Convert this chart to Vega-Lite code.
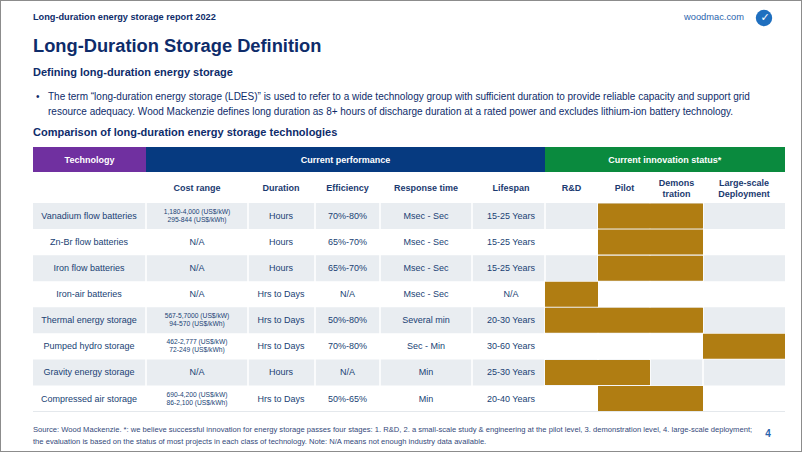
{
  "$schema": "https://vega.github.io/schema/vega-lite/v6.json",
  "width": 802,
  "height": 452,
  "padding": 0,
  "autosize": {"type": "none"},
  "background": "white",
  "config": {
    "view": {"stroke": "#8c8c8c", "strokeWidth": 2},
    "axis": {"disable": true},
    "legend": {"disable": true},
    "text": {"font": "Liberation Sans", "baseline": "middle"}
  },
  "datasets": {
    "table": [
      {"tech": "Vanadium flow batteries", "cost": "1,180-4,000 (US$/kW)\n295-844 (US$/kWh)", "duration": "Hours", "efficiency": "70%-80%", "response": "Msec - Sec", "lifespan": "15-25 Years", "stage_start": 1, "stage_end": 3},
      {"tech": "Zn-Br flow batteries", "cost": "N/A", "duration": "Hours", "efficiency": "65%-70%", "response": "Msec - Sec", "lifespan": "15-25 Years", "stage_start": 1, "stage_end": 3},
      {"tech": "Iron flow batteries", "cost": "N/A", "duration": "Hours", "efficiency": "65%-70%", "response": "Msec - Sec", "lifespan": "15-25 Years", "stage_start": 1, "stage_end": 3},
      {"tech": "Iron-air batteries", "cost": "N/A", "duration": "Hrs to Days", "efficiency": "N/A", "response": "Msec - Sec", "lifespan": "N/A", "stage_start": 0, "stage_end": 1},
      {"tech": "Thermal energy storage", "cost": "567-5,7000 (US$/kW)\n94-570 (US$/kWh)", "duration": "Hrs to Days", "efficiency": "50%-80%", "response": "Several min", "lifespan": "20-30 Years", "stage_start": 0, "stage_end": 3},
      {"tech": "Pumped hydro storage", "cost": "462-2,777 (US$/kW)\n72-249 (US$/kWh)", "duration": "Hrs to Days", "efficiency": "70%-80%", "response": "Sec - Min", "lifespan": "30-60 Years", "stage_start": 3, "stage_end": 4},
      {"tech": "Gravity energy storage", "cost": "N/A", "duration": "Hours", "efficiency": "N/A", "response": "Min", "lifespan": "25-30 Years", "stage_start": 0, "stage_end": 2},
      {"tech": "Compressed air storage", "cost": "690-4,200 (US$/kW)\n86-2,100 (US$/kWh)", "duration": "Hrs to Days", "efficiency": "50%-65%", "response": "Min", "lifespan": "20-40 Years", "stage_start": 1, "stage_end": 3}
    ],
    "columns": [
      {"name": "Technology"},
      {"name": "Cost range"},
      {"name": "Duration"},
      {"name": "Efficiency"},
      {"name": "Response time"},
      {"name": "Lifespan"},
      {"name": "R&D"},
      {"name": "Pilot"},
      {"name": "Demons\ntration"},
      {"name": "Large-scale\nDeployment"}
    ],
    "slide": [
      {"part": "header", "text": "Long-duration energy storage report 2022"},
      {"part": "site", "text": "woodmac.com"},
      {"part": "title", "text": "Long-Duration Storage Definition"},
      {"part": "subtitle", "text": "Defining long-duration energy storage"},
      {"part": "bullet", "text": "The term “long-duration energy storage (LDES)” is used to refer to a wide technology group with sufficient duration to provide reliable capacity and support grid\nresource adequacy. Wood Mackenzie defines long duration as 8+ hours of discharge duration at a rated power and excludes lithium-ion battery technology."},
      {"part": "tabletitle", "text": "Comparison of long-duration energy storage technologies"},
      {"part": "source", "text": "Source: Wood Mackenzie. *: we believe successful innovation for energy storage passes four stages: 1. R&D, 2. a small-scale study & engineering at the pilot level, 3. demonstration level, 4. large-scale deployment;\nthe evaluation is based on the status of most projects in each class of technology. Note: N/A means not enough industry data available."},
      {"part": "page", "text": "4"}
    ]
  },
  "resolve": {"scale": {"x": "independent", "y": "independent", "size": "independent", "color": "independent"}},
  "layer": [
    {
      "data": {"name": "table"},
      "transform": [{"window": [{"op": "row_number", "as": "rank"}]}, {"filter": "datum.rank % 2 == 1"}],
      "mark": {"type": "rule", "color": "#e9edf1", "strokeWidth": 26},
      "encoding": {
        "x": {"datum": 1, "type": "quantitative", "scale": {"type": "linear", "domain": [1,2,3,4,5,6,7,8,9,10,11], "range": [33,146,248,315,380,472,545,598,650,703,785], "nice": false, "zero": false}},
        "x2": {"datum": 11},
        "y": {"field": "tech", "type": "nominal", "scale": {"type": "point", "domain": ["Vanadium flow batteries","Zn-Br flow batteries","Iron flow batteries","Iron-air batteries","Thermal energy storage","Pumped hydro storage","Gravity energy storage","Compressed air storage"], "range": [216, 398.5], "padding": 0}}
      }
    },
    {
      "data": {"name": "columns"},
      "transform": [{"window": [{"op": "row_number", "as": "order"}]}, {"filter": "datum.order > 1"}],
      "mark": {"type": "rule", "color": "white", "strokeWidth": 1.5},
      "encoding": {
        "x": {"field": "order", "type": "quantitative", "scale": {"type": "linear", "domain": [1,2,3,4,5,6,7,8,9,10,11], "range": [33,146,248,315,380,472,545,598,650,703,785], "nice": false, "zero": false}},
        "y": {"datum": 8, "type": "quantitative", "scale": {"type": "linear", "domain": [1,2,3,4,5,6,7,8,9,10], "range": [17,47,73,97,133,159.5,188,203,411.5,430], "nice": false, "zero": false}},
        "y2": {"datum": 9}
      }
    },
    {
      "data": {"values": [{}]},
      "mark": {"type": "rule", "color": "#e4e8ec", "strokeWidth": 1},
      "encoding": {
        "x": {"datum": 1, "type": "quantitative", "scale": {"type": "linear", "domain": [1,2,3,4,5,6,7,8,9,10,11], "range": [33,146,248,315,380,472,545,598,650,703,785], "nice": false, "zero": false}},
        "x2": {"datum": 11},
        "y": {"datum": 9, "type": "quantitative", "scale": {"type": "linear", "domain": [1,2,3,4,5,6,7,8,9,10], "range": [17,47,73,97,133,159.5,188,203,411.5,430], "nice": false, "zero": false}}
      }
    },
    {
      "data": {"name": "table"},
      "mark": {"type": "rule", "color": "#b07d12", "strokeWidth": 25},
      "encoding": {
        "x": {"field": "stage_start", "type": "quantitative", "scale": {"type": "linear", "domain": [0,1,2,3,4], "range": [545,598,650,703,785], "nice": false, "zero": false}},
        "x2": {"field": "stage_end"},
        "y": {"field": "tech", "type": "nominal", "scale": {"type": "point", "domain": ["Vanadium flow batteries","Zn-Br flow batteries","Iron flow batteries","Iron-air batteries","Thermal energy storage","Pumped hydro storage","Gravity energy storage","Compressed air storage"], "range": [216, 398.5], "padding": 0}}
      }
    },
    {
      "data": {"values": [{"group": "Technology", "from": 1, "to": 2}, {"group": "Current performance", "from": 2, "to": 7}, {"group": "Current innovation status*", "from": 7, "to": 11}]},
      "mark": {"type": "rule", "strokeWidth": 25},
      "encoding": {
        "x": {"field": "from", "type": "quantitative", "scale": {"type": "linear", "domain": [1,2,3,4,5,6,7,8,9,10,11], "range": [33,146,248,315,380,472,545,598,650,703,785], "nice": false, "zero": false}},
        "x2": {"field": "to"},
        "y": {"datum": 6, "type": "quantitative", "scale": {"type": "linear", "domain": [1,2,3,4,5,6,7,8,9,10], "range": [17,47,73,97,133,159.5,188,203,411.5,430], "nice": false, "zero": false}},
        "color": {"field": "group", "type": "nominal", "scale": {"domain": ["Technology", "Current performance", "Current innovation status*"], "range": ["#7030a0", "#063a80", "#0a8a3e"]}, "legend": null}
      }
    },
    {
      "data": {"values": [{"group": "Technology", "mid": 1.5}, {"group": "Current performance", "mid": 4.47}, {"group": "Current innovation status*", "mid": 9.28}]},
      "mark": {"type": "text", "color": "white", "fontWeight": "bold", "fontSize": 9, "align": "center"},
      "encoding": {
        "x": {"field": "mid", "type": "quantitative", "scale": {"type": "linear", "domain": [1,2,3,4,5,6,7,8,9,10,11], "range": [33,146,248,315,380,472,545,598,650,703,785], "nice": false, "zero": false}},
        "y": {"datum": 6, "type": "quantitative", "scale": {"type": "linear", "domain": [1,2,3,4,5,6,7,8,9,10], "range": [17,47,73,97,133,159.5,188,203,411.5,430], "nice": false, "zero": false}},
        "text": {"field": "group"}
      }
    },
    {
      "data": {"name": "columns"},
      "transform": [{"window": [{"op": "row_number", "as": "order"}]}, {"filter": "datum.order > 1 && indexof(datum.name, '\\n') < 0"}],
      "mark": {"type": "text", "color": "#1b3a70", "fontWeight": "bold", "fontSize": 9, "align": "center"},
      "encoding": {
        "x": {"field": "order", "type": "quantitative", "scale": {"type": "linear", "domain": [1,2,3,4,5,6,7,8,9,10], "range": [89,197,281,347.5,426,511,571.5,624.5,676.5,744], "nice": false, "zero": false}},
        "y": {"datum": 7, "type": "quantitative", "scale": {"type": "linear", "domain": [1,2,3,4,5,6,7,8,9,10], "range": [17,47,73,97,133,159.5,188,203,411.5,430], "nice": false, "zero": false}},
        "text": {"field": "name"}
      }
    },
    {
      "data": {"name": "columns"},
      "transform": [{"window": [{"op": "row_number", "as": "order"}]}, {"filter": "datum.order > 1 && indexof(datum.name, '\\n') >= 0"}],
      "mark": {"type": "text", "color": "#1b3a70", "fontWeight": "bold", "fontSize": 9, "align": "center", "lineBreak": "\n", "lineHeight": 11, "dy": -5.5},
      "encoding": {
        "x": {"field": "order", "type": "quantitative", "scale": {"type": "linear", "domain": [1,2,3,4,5,6,7,8,9,10], "range": [89,197,281,347.5,426,511,571.5,624.5,676.5,744], "nice": false, "zero": false}},
        "y": {"datum": 7, "type": "quantitative", "scale": {"type": "linear", "domain": [1,2,3,4,5,6,7,8,9,10], "range": [17,47,73,97,133,159.5,188,203,411.5,430], "nice": false, "zero": false}},
        "text": {"field": "name"}
      }
    },
    {
      "data": {"name": "table"},
      "mark": {"type": "text", "color": "#203f74", "fontSize": 9, "align": "center"},
      "encoding": {
        "x": {"datum": 1, "type": "quantitative", "scale": {"type": "linear", "domain": [1,2,3,4,5,6,7,8,9,10], "range": [89,197,281,347.5,426,511,571.5,624.5,676.5,744], "nice": false, "zero": false}},
        "y": {"field": "tech", "type": "nominal", "scale": {"type": "point", "domain": ["Vanadium flow batteries","Zn-Br flow batteries","Iron flow batteries","Iron-air batteries","Thermal energy storage","Pumped hydro storage","Gravity energy storage","Compressed air storage"], "range": [216, 398.5], "padding": 0}},
        "text": {"field": "tech"}
      }
    },
    {
      "data": {"name": "table"},
      "transform": [{"filter": "datum.cost == 'N/A'"}],
      "mark": {"type": "text", "color": "#203f74", "fontSize": 9, "align": "center"},
      "encoding": {
        "x": {"datum": 2, "type": "quantitative", "scale": {"type": "linear", "domain": [1,2,3,4,5,6,7,8,9,10], "range": [89,197,281,347.5,426,511,571.5,624.5,676.5,744], "nice": false, "zero": false}},
        "y": {"field": "tech", "type": "nominal", "scale": {"type": "point", "domain": ["Vanadium flow batteries","Zn-Br flow batteries","Iron flow batteries","Iron-air batteries","Thermal energy storage","Pumped hydro storage","Gravity energy storage","Compressed air storage"], "range": [216, 398.5], "padding": 0}},
        "text": {"field": "cost"}
      }
    },
    {
      "data": {"name": "table"},
      "transform": [{"filter": "datum.cost != 'N/A'"}],
      "mark": {"type": "text", "color": "#203f74", "fontSize": 6.7, "align": "center", "lineBreak": "\n", "lineHeight": 8, "dy": -4},
      "encoding": {
        "x": {"datum": 2, "type": "quantitative", "scale": {"type": "linear", "domain": [1,2,3,4,5,6,7,8,9,10], "range": [89,197,281,347.5,426,511,571.5,624.5,676.5,744], "nice": false, "zero": false}},
        "y": {"field": "tech", "type": "nominal", "scale": {"type": "point", "domain": ["Vanadium flow batteries","Zn-Br flow batteries","Iron flow batteries","Iron-air batteries","Thermal energy storage","Pumped hydro storage","Gravity energy storage","Compressed air storage"], "range": [216, 398.5], "padding": 0}},
        "text": {"field": "cost"}
      }
    },
    {
      "data": {"name": "table"},
      "mark": {"type": "text", "color": "#203f74", "fontSize": 9, "align": "center"},
      "encoding": {
        "x": {"datum": 3, "type": "quantitative", "scale": {"type": "linear", "domain": [1,2,3,4,5,6,7,8,9,10], "range": [89,197,281,347.5,426,511,571.5,624.5,676.5,744], "nice": false, "zero": false}},
        "y": {"field": "tech", "type": "nominal", "scale": {"type": "point", "domain": ["Vanadium flow batteries","Zn-Br flow batteries","Iron flow batteries","Iron-air batteries","Thermal energy storage","Pumped hydro storage","Gravity energy storage","Compressed air storage"], "range": [216, 398.5], "padding": 0}},
        "text": {"field": "duration"}
      }
    },
    {
      "data": {"name": "table"},
      "mark": {"type": "text", "color": "#203f74", "fontSize": 9, "align": "center"},
      "encoding": {
        "x": {"datum": 4, "type": "quantitative", "scale": {"type": "linear", "domain": [1,2,3,4,5,6,7,8,9,10], "range": [89,197,281,347.5,426,511,571.5,624.5,676.5,744], "nice": false, "zero": false}},
        "y": {"field": "tech", "type": "nominal", "scale": {"type": "point", "domain": ["Vanadium flow batteries","Zn-Br flow batteries","Iron flow batteries","Iron-air batteries","Thermal energy storage","Pumped hydro storage","Gravity energy storage","Compressed air storage"], "range": [216, 398.5], "padding": 0}},
        "text": {"field": "efficiency"}
      }
    },
    {
      "data": {"name": "table"},
      "mark": {"type": "text", "color": "#203f74", "fontSize": 9, "align": "center"},
      "encoding": {
        "x": {"datum": 5, "type": "quantitative", "scale": {"type": "linear", "domain": [1,2,3,4,5,6,7,8,9,10], "range": [89,197,281,347.5,426,511,571.5,624.5,676.5,744], "nice": false, "zero": false}},
        "y": {"field": "tech", "type": "nominal", "scale": {"type": "point", "domain": ["Vanadium flow batteries","Zn-Br flow batteries","Iron flow batteries","Iron-air batteries","Thermal energy storage","Pumped hydro storage","Gravity energy storage","Compressed air storage"], "range": [216, 398.5], "padding": 0}},
        "text": {"field": "response"}
      }
    },
    {
      "data": {"name": "table"},
      "mark": {"type": "text", "color": "#203f74", "fontSize": 9, "align": "center"},
      "encoding": {
        "x": {"datum": 6, "type": "quantitative", "scale": {"type": "linear", "domain": [1,2,3,4,5,6,7,8,9,10], "range": [89,197,281,347.5,426,511,571.5,624.5,676.5,744], "nice": false, "zero": false}},
        "y": {"field": "tech", "type": "nominal", "scale": {"type": "point", "domain": ["Vanadium flow batteries","Zn-Br flow batteries","Iron flow batteries","Iron-air batteries","Thermal energy storage","Pumped hydro storage","Gravity energy storage","Compressed air storage"], "range": [216, 398.5], "padding": 0}},
        "text": {"field": "lifespan"}
      }
    },
    {
      "data": {"name": "slide"},
      "transform": [{"filter": "datum.part == 'header'"}],
      "mark": {"type": "text", "color": "#0e2c6a", "fontWeight": "bold", "fontSize": 9.2, "align": "left"},
      "encoding": {
        "x": {"datum": 1, "type": "quantitative", "scale": {"type": "linear", "domain": [1,2,3,4,5,6,7,8,9,10,11], "range": [33,146,248,315,380,472,545,598,650,703,785], "nice": false, "zero": false}},
        "y": {"datum": 1, "type": "quantitative", "scale": {"type": "linear", "domain": [1,2,3,4,5,6,7,8,9,10], "range": [17,47,73,97,133,159.5,188,203,411.5,430], "nice": false, "zero": false}},
        "text": {"field": "text"}
      }
    },
    {
      "data": {"name": "slide"},
      "transform": [{"filter": "datum.part == 'site'"}],
      "mark": {"type": "text", "color": "#2a64ad", "fontSize": 9.3, "align": "right", "dx": -41},
      "encoding": {
        "x": {"datum": 11, "type": "quantitative", "scale": {"type": "linear", "domain": [1,2,3,4,5,6,7,8,9,10,11], "range": [33,146,248,315,380,472,545,598,650,703,785], "nice": false, "zero": false}},
        "y": {"datum": 1, "type": "quantitative", "scale": {"type": "linear", "domain": [1,2,3,4,5,6,7,8,9,10], "range": [17,47,73,97,133,159.5,188,203,411.5,430], "nice": false, "zero": false}},
        "text": {"field": "text"}
      }
    },
    {
      "data": {"values": [{"mark": "logo"}]},
      "mark": {"type": "circle", "size": 270, "color": "#1f6fbf", "opacity": 1, "xOffset": -21, "yOffset": 1},
      "encoding": {
        "x": {"datum": 11, "type": "quantitative", "scale": {"type": "linear", "domain": [1,2,3,4,5,6,7,8,9,10,11], "range": [33,146,248,315,380,472,545,598,650,703,785], "nice": false, "zero": false}},
        "y": {"datum": 1, "type": "quantitative", "scale": {"type": "linear", "domain": [1,2,3,4,5,6,7,8,9,10], "range": [17,47,73,97,133,159.5,188,203,411.5,430], "nice": false, "zero": false}}
      }
    },
    {
      "data": {"values": [{"glyph": "✓"}]},
      "mark": {"type": "text", "color": "white", "font": "DejaVu Sans", "fontWeight": "bold", "fontSize": 11, "align": "center", "dx": -20, "dy": 1},
      "encoding": {
        "x": {"datum": 11, "type": "quantitative", "scale": {"type": "linear", "domain": [1,2,3,4,5,6,7,8,9,10,11], "range": [33,146,248,315,380,472,545,598,650,703,785], "nice": false, "zero": false}},
        "y": {"datum": 1, "type": "quantitative", "scale": {"type": "linear", "domain": [1,2,3,4,5,6,7,8,9,10], "range": [17,47,73,97,133,159.5,188,203,411.5,430], "nice": false, "zero": false}},
        "text": {"field": "glyph"}
      }
    },
    {
      "data": {"name": "slide"},
      "transform": [{"filter": "datum.part == 'title'"}],
      "mark": {"type": "text", "color": "#0e2c6a", "fontWeight": "bold", "fontSize": 18.3, "align": "left"},
      "encoding": {
        "x": {"datum": 1, "type": "quantitative", "scale": {"type": "linear", "domain": [1,2,3,4,5,6,7,8,9,10,11], "range": [33,146,248,315,380,472,545,598,650,703,785], "nice": false, "zero": false}},
        "y": {"datum": 2, "type": "quantitative", "scale": {"type": "linear", "domain": [1,2,3,4,5,6,7,8,9,10], "range": [17,47,73,97,133,159.5,188,203,411.5,430], "nice": false, "zero": false}},
        "text": {"field": "text"}
      }
    },
    {
      "data": {"name": "slide"},
      "transform": [{"filter": "datum.part == 'subtitle' || datum.part == 'tabletitle'"}],
      "mark": {"type": "text", "color": "#0e2c6a", "fontWeight": "bold", "fontSize": 11, "align": "left"},
      "encoding": {
        "x": {"datum": 1, "type": "quantitative", "scale": {"type": "linear", "domain": [1,2,3,4,5,6,7,8,9,10,11], "range": [33,146,248,315,380,472,545,598,650,703,785], "nice": false, "zero": false}},
        "y": {"field": "part", "type": "nominal", "scale": {"type": "point", "domain": ["subtitle", "tabletitle"], "range": [73, 133], "padding": 0}},
        "text": {"field": "text"}
      }
    },
    {
      "data": {"name": "slide"},
      "transform": [{"filter": "datum.part == 'bullet'"}],
      "mark": {"type": "text", "color": "#0e2c6a", "fontSize": 10, "align": "left", "dx": 15, "lineBreak": "\n", "lineHeight": 14.5},
      "encoding": {
        "x": {"datum": 1, "type": "quantitative", "scale": {"type": "linear", "domain": [1,2,3,4,5,6,7,8,9,10,11], "range": [33,146,248,315,380,472,545,598,650,703,785], "nice": false, "zero": false}},
        "y": {"datum": 4, "type": "quantitative", "scale": {"type": "linear", "domain": [1,2,3,4,5,6,7,8,9,10], "range": [17,47,73,97,133,159.5,188,203,411.5,430], "nice": false, "zero": false}},
        "text": {"field": "text"}
      }
    },
    {
      "data": {"values": [{"glyph": "•"}]},
      "mark": {"type": "text", "color": "#0e2c6a", "fontSize": 10, "align": "left", "dx": 3},
      "encoding": {
        "x": {"datum": 1, "type": "quantitative", "scale": {"type": "linear", "domain": [1,2,3,4,5,6,7,8,9,10,11], "range": [33,146,248,315,380,472,545,598,650,703,785], "nice": false, "zero": false}},
        "y": {"datum": 4, "type": "quantitative", "scale": {"type": "linear", "domain": [1,2,3,4,5,6,7,8,9,10], "range": [17,47,73,97,133,159.5,188,203,411.5,430], "nice": false, "zero": false}},
        "text": {"field": "glyph"}
      }
    },
    {
      "data": {"name": "slide"},
      "transform": [{"filter": "datum.part == 'source'"}],
      "mark": {"type": "text", "color": "#34497a", "fontSize": 7.6, "align": "left", "lineBreak": "\n", "lineHeight": 11.5},
      "encoding": {
        "x": {"datum": 1, "type": "quantitative", "scale": {"type": "linear", "domain": [1,2,3,4,5,6,7,8,9,10,11], "range": [33,146,248,315,380,472,545,598,650,703,785], "nice": false, "zero": false}},
        "y": {"datum": 10, "type": "quantitative", "scale": {"type": "linear", "domain": [1,2,3,4,5,6,7,8,9,10], "range": [17,47,73,97,133,159.5,188,203,411.5,430], "nice": false, "zero": false}},
        "text": {"field": "text"}
      }
    },
    {
      "data": {"name": "slide"},
      "transform": [{"filter": "datum.part == 'page'"}],
      "mark": {"type": "text", "color": "#2a64ad", "fontWeight": "bold", "fontSize": 10, "align": "center", "dx": -17, "dy": 4},
      "encoding": {
        "x": {"datum": 11, "type": "quantitative", "scale": {"type": "linear", "domain": [1,2,3,4,5,6,7,8,9,10,11], "range": [33,146,248,315,380,472,545,598,650,703,785], "nice": false, "zero": false}},
        "y": {"datum": 10, "type": "quantitative", "scale": {"type": "linear", "domain": [1,2,3,4,5,6,7,8,9,10], "range": [17,47,73,97,133,159.5,188,203,411.5,430], "nice": false, "zero": false}},
        "text": {"field": "text"}
      }
    }
  ]
}
